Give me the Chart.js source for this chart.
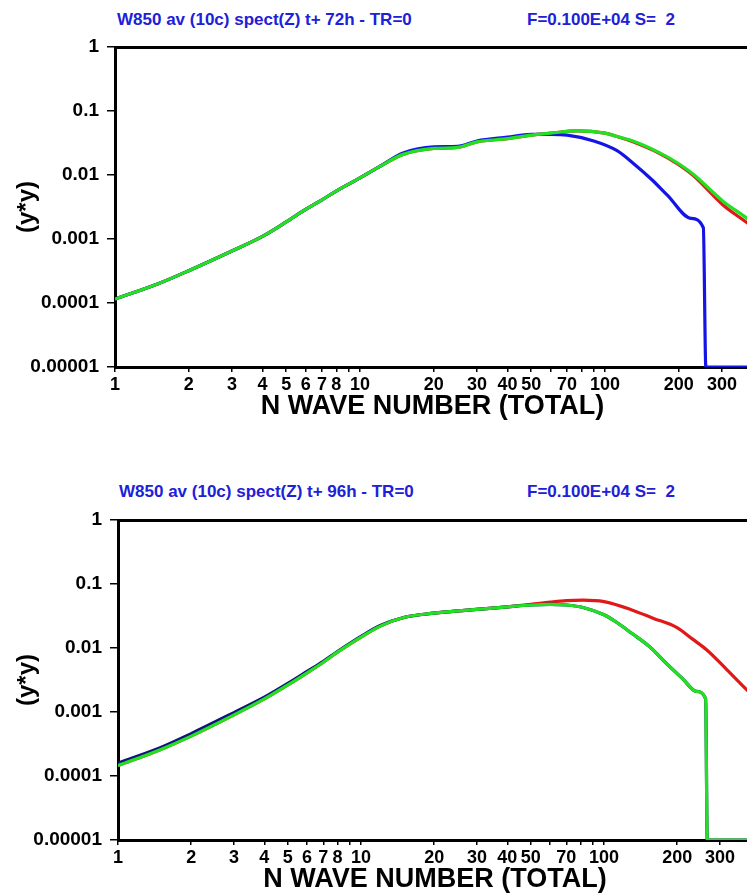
<!DOCTYPE html>
<html>
<head>
<meta charset="utf-8">
<script src="https://cdn.jsdelivr.net/npm/chart.js@4.4.1/dist/chart.umd.min.js"></script>
<style>
  html, body { margin:0; padding:0; background:#fff; }
  body { width:747px; height:893px; overflow:hidden; position:relative; }
  .t { position:absolute; font-family:"Liberation Sans", Arial, Helvetica, sans-serif; font-weight:bold;
       font-size:17px; line-height:17px; color:#2020d8; white-space:pre; }
  canvas { position:absolute; left:0; }
</style>
</head>
<body>
<div class="t" style="left:117px; top:11px">W850 av (10c) spect(Z) t+ 72h - TR=0</div>
<div class="t" style="left:527px; top:11px">F=0.100E+04 S=  2</div>
<div class="t" style="left:119px; top:483px">W850 av (10c) spect(Z) t+ 96h - TR=0</div>
<div class="t" style="left:527px; top:483px">F=0.100E+04 S=  2</div>
<canvas id="c1" width="770" height="420" style="top:0px"></canvas>
<canvas id="c2" width="770" height="421" style="top:472px"></canvas>
<script>
// ---- tick values / labels ----
const xTickValues = [1,2,3,4,5,6,7,8,9,10,20,30,40,50,60,70,80,90,100,200,300];
const xTickLabels = ['1','2','3','4','5','6','7','8','','10','20','30','40','50','','70','','','100','200','300'];
const yTickValues = [1, 0.1, 0.01, 0.001, 0.0001, 0.00001];
const yTickLabels = ['1','0.1','0.01','0.001','0.0001','0.00001'];

// ---- top panel (t+72h) ----
const nGreenTop = [1,1.5,2,3,4,5,6,7,8,10,12,15,20,25,30,40,50,60,77,100,112,130,168,200,230,303,380,500];
const vGreenTop = [1.15e-4,2.0e-4,3.2e-4,6.5e-4,1.1e-3,1.85e-3,2.9e-3,4.1e-3,5.6e-3,9.0e-3,0.0135,0.021,0.026,0.027,0.033,0.037,0.042,0.045,0.049,0.045,0.040,0.034,0.022,0.015,0.0102,0.0039,0.0021,0.0009];
const nRedTop = [1,1.5,2,3,4,5,6,7,8,10,12,15,20,25,30,40,50,60,77,100,112,130,168,200,230,303,380,500];
const vRedTop = [1.15e-4,2.0e-4,3.2e-4,6.5e-4,1.1e-3,1.85e-3,2.9e-3,4.1e-3,5.6e-3,9.0e-3,0.0135,0.021,0.026,0.027,0.033,0.037,0.042,0.045,0.049,0.045,0.040,0.033,0.0215,0.0145,0.0097,0.0034,0.0018,0.0008];
const nBlueTop = [1,1.5,2,3,4,5,6,7,8,10,12,15,20,25,30,40,50,60,70,90,112,131,155,180,224,252,258,300,500];
const vBlueTop = [1.15e-4,2.0e-4,3.2e-4,6.5e-4,1.1e-3,1.85e-3,2.9e-3,4.1e-3,5.6e-3,9.0e-3,0.0135,0.022,0.0275,0.028,0.034,0.039,0.043,0.043,0.042,0.034,0.024,0.015,0.0085,0.0048,0.0021,0.0015,1e-5,1e-5,1e-5];

// ---- bottom panel (t+96h) ----
const nGreenBot = [1,1.5,2,3,4,5,6,7,8,10,12,15,20,25,30,40,50,60,70,82,100,113,130,154,180,211,240,262,266,300,500];
const vGreenBot = [1.45e-4,2.6e-4,4.2e-4,9.0e-4,1.6e-3,2.65e-3,4.1e-3,6.0e-3,8.6e-3,0.0148,0.022,0.030,0.035,0.038,0.040,0.044,0.047,0.048,0.047,0.043,0.033,0.025,0.017,0.0105,0.0058,0.0033,0.0021,0.0016,1e-5,1e-5,1e-5];
const nNavyBot = [1,1.5,2,3,4,5,6,7,8,10,12,15,20,25,30,40,50,60,70,82,100,113,130,154,180,211,240,262,266,300,500];
const vNavyBot = [1.6e-4,2.8e-4,4.6e-4,9.8e-4,1.7e-3,2.8e-3,4.3e-3,6.2e-3,8.8e-3,0.0152,0.0225,0.030,0.035,0.038,0.040,0.044,0.047,0.048,0.047,0.043,0.033,0.025,0.017,0.0105,0.0058,0.0033,0.0021,0.0016,1e-5,1e-5,1e-5];
const nRedBot = [1,1.5,2,3,4,5,6,7,8,10,12,15,20,25,30,40,50,60,70,82,100,131,160,199,230,265,320,388,500];
const vRedBot = [1.45e-4,2.6e-4,4.2e-4,9.0e-4,1.6e-3,2.65e-3,4.1e-3,6.0e-3,8.6e-3,0.0148,0.022,0.030,0.035,0.038,0.040,0.044,0.048,0.052,0.055,0.056,0.053,0.039,0.029,0.021,0.014,0.0093,0.0046,0.0022,0.0009];

const FONT = '"Liberation Sans", Arial, Helvetica, sans-serif';
Chart.defaults.font.family = FONT;

function pts(ns, vs) { return ns.map((n, i) => ({ x: n, y: vs[i] })); }
function ds(ns, vs, color) {
  return { data: pts(ns, vs), borderColor: color, borderWidth: 3.2, pointRadius: 0,
           cubicInterpolationMode: 'monotone', fill: false };
}

function makeChart(id, datasets, padTop, leftW, decade, canvasW, rightEdge) {
  const xmax = Math.pow(10, (rightEdge - leftW) / decade);
  return new Chart(document.getElementById(id), {
    type: 'line',
    data: { datasets },
    options: {
      responsive: false, animation: false, devicePixelRatio: 1,
      layout: { padding: { top: padTop, right: canvasW - rightEdge, left: 0, bottom: 0 } },
      plugins: { legend: { display: false }, tooltip: { enabled: false }, title: { display: false } },
      scales: {
        x: {
          type: 'logarithmic', min: 1, max: xmax, position: 'bottom',
          afterFit: s => { s.height = 53; s.paddingLeft = 0; s.paddingRight = 0; },
          afterBuildTicks: s => { s.ticks = xTickValues.map(v => ({ value: v })); },
          ticks: { autoSkip: false, maxRotation: 0, minRotation: 0, padding: 2, color: '#000',
                   font: { size: 18, weight: 'bold' },
                   callback: (v, i) => xTickLabels[i] },
          grid: { display: true, drawOnChartArea: false, drawTicks: true, tickLength: 5, color: '#000', lineWidth: 1.5 },
          border: { display: true, color: '#000', width: 3 },
          title: { display: true, text: 'N WAVE NUMBER (TOTAL)', color: '#000',
                   font: { size: 27, weight: 'bold', lineHeight: 1 }, padding: { top: 0, bottom: 0 } }
        },
        y: {
          type: 'logarithmic', min: 1e-5, max: 1, position: 'left',
          afterFit: s => { s.width = leftW; },
          afterBuildTicks: s => { s.ticks = yTickValues.map(v => ({ value: v })); },
          ticks: { padding: 8, color: '#000', font: { size: 19, weight: 'bold' },
                   callback: (v, i) => yTickLabels[i] },
          grid: { display: true, drawOnChartArea: false, drawTicks: true, tickLength: 8, color: '#000', lineWidth: 1.5 },
          border: { display: true, color: '#000', width: 3 },
          title: { display: true, text: '(y*y)', color: '#000',
                   font: { size: 24, weight: 'bold', lineHeight: 1 }, padding: { top: 15, bottom: 0 } }
        },
        xTop: {
          type: 'linear', position: 'top', display: true,
          afterFit: s => { s.height = 0; },
          ticks: { display: false }, grid: { display: false },
          border: { display: true, color: '#000', width: 3 }
        }
      }
    }
  });
}

const BLUE = '#1414e6', RED = '#e01818', GREEN = '#22e022', NAVY = '#12127a';

makeChart('c1', [
  ds(nGreenTop, vGreenTop, GREEN),
  ds(nBlueTop, vBlueTop, BLUE),
  ds(nRedTop, vRedTop, RED)
], 47, 115, 245, 770, 750);

makeChart('c2', [
  ds(nGreenBot, vGreenBot, GREEN),
  ds(nNavyBot, vNavyBot, NAVY),
  ds(nRedBot, vRedBot, RED)
], 48, 118, 243, 770, 752);
</script>
</body>
</html>
